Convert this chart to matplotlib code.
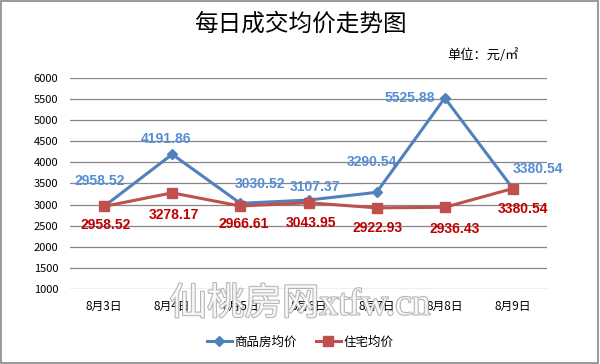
import matplotlib
matplotlib.use('Agg')
import matplotlib.pyplot as plt
import matplotlib.patheffects as pe
from matplotlib.patches import Rectangle

plt.rcParams['font.family'] = ['Noto Sans CJK SC', 'DejaVu Sans']

# 数据
dates = ['8月3日', '8月4日', '8月5日', '8月6日', '8月7日', '8月8日', '8月9日']
spf = [2958.52, 4191.86, 3030.52, 3107.37, 3290.54, 5525.88, 3380.54]   # 商品房均价
zz = [2958.52, 3278.17, 2966.61, 3043.95, 2922.93, 2936.43, 3380.54]    # 住宅均价
yticks = list(range(1000, 6001, 500))

# 数据标签偏移（像素）
spf_off = [(-4, 25), (-6, 15), (20, 19), (6, 13), (-5, 30), (-35, 0), (25, 20)]
zz_off = [(2, -19), (2, -22), (3, -18), (2, -20), (1, -20), (10, -22), (10, -20)]

blue, red = '#4F81BD', '#C0504D'

fig = plt.figure(figsize=(6.0, 3.64), dpi=100)
ax = fig.add_axes([70/600, 1 - 289/364, 477/600, 211/364])

x = list(range(len(dates)))
ax.plot(x, spf, color=blue, lw=2.2, marker='D', ms=5.5, label='商品房均价', zorder=3)
ax.plot(x, zz, color=red, lw=2.2, marker='s', ms=6.5, label='住宅均价', zorder=3)

for i, v in enumerate(spf):
    ax.annotate(f'{v:.2f}', (i, v), xytext=spf_off[i], textcoords='offset pixels',
                ha='center', va='center', color='#558ED5', fontsize=10,
                fontweight='bold', family=['Liberation Sans'], zorder=4)
for i, v in enumerate(zz):
    ax.annotate(f'{v:.2f}', (i, v), xytext=zz_off[i], textcoords='offset pixels',
                ha='center', va='center', color='#C00000', fontsize=10,
                fontweight='bold', family=['Liberation Sans'], zorder=4)

ax.set_xlim(-0.5, len(dates) - 0.5)
ax.set_ylim(1000, 6000)
ax.set_yticks(yticks)
ax.set_xticks(x)
ax.set_xticklabels(dates, fontsize=8.5, fontweight='medium')
ax.tick_params(axis='y', length=0, pad=8.5, labelsize=8)
ax.tick_params(axis='x', length=0, pad=8)
ax.grid(axis='y', color='#868686', lw=0.9)
ax.set_axisbelow(True)
for s in ax.spines.values():
    s.set_visible(False)

fig.text(0.5, 1 - 24/364, '每日成交均价走势图', ha='center', va='center', fontsize=17,
         fontweight='medium')
fig.text(483/600, 1 - 55/364, '单位：元/㎡', ha='center', va='center', fontsize=9.5)

ax.legend(loc='center', bbox_to_anchor=(0.5, 1 - 342/364), bbox_transform=fig.transFigure,
          ncol=2, frameon=False, fontsize=9, handlelength=2, columnspacing=1.5,
          handletextpad=0.2)

# 水印
fig.text(0.5, 1 - 305/364, '仙桃房网xtfw.cn', ha='center', va='center', fontsize=27,
         color='white', alpha=0.8, family=['Liberation Serif', 'Noto Sans CJK SC'],
         path_effects=[pe.Stroke(linewidth=1.4, foreground='#a0a0a0'), pe.Normal()],
         zorder=10)

fig.patches.append(Rectangle((0.002, 0.003), 0.994, 0.994, transform=fig.transFigure,
                             fill=False, edgecolor='#888888', lw=1.2))

plt.savefig('out.png', dpi=100)
